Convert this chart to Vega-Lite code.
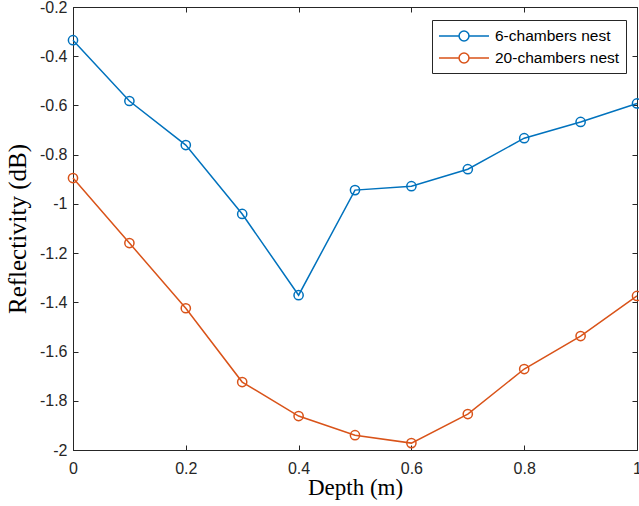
{
  "$schema": "https://vega.github.io/schema/vega-lite/v6.json",
  "width": 564,
  "height": 443,
  "autosize": {"type": "none"},
  "padding": {"left": 73, "top": 7, "right": 2, "bottom": 56},
  "background": "white",
  "config": {
    "view": {"stroke": "#262626", "strokeWidth": 1},
    "axis": {
      "labelFont": "Liberation Sans",
      "labelFontSize": 16,
      "labelColor": "#262626",
      "titleFont": "Liberation Serif",
      "titleFontWeight": "normal",
      "titleColor": "#000000",
      "gridColor": "#e3e3e3",
      "gridWidth": 1,
      "domainColor": "#262626",
      "tickColor": "#262626",
      "tickSize": -5
    }
  },
  "data": {
    "values": [
      {"depth": 0.0, "refl": -0.335, "series": "6-chambers nest"},
      {"depth": 0.1, "refl": -0.582, "series": "6-chambers nest"},
      {"depth": 0.2, "refl": -0.761, "series": "6-chambers nest"},
      {"depth": 0.3, "refl": -1.041, "series": "6-chambers nest"},
      {"depth": 0.4, "refl": -1.371, "series": "6-chambers nest"},
      {"depth": 0.5, "refl": -0.944, "series": "6-chambers nest"},
      {"depth": 0.6, "refl": -0.928, "series": "6-chambers nest"},
      {"depth": 0.7, "refl": -0.859, "series": "6-chambers nest"},
      {"depth": 0.8, "refl": -0.733, "series": "6-chambers nest"},
      {"depth": 0.9, "refl": -0.667, "series": "6-chambers nest"},
      {"depth": 1.0, "refl": -0.592, "series": "6-chambers nest"},
      {"depth": 0.0, "refl": -0.895, "series": "20-chambers nest"},
      {"depth": 0.1, "refl": -1.159, "series": "20-chambers nest"},
      {"depth": 0.2, "refl": -1.424, "series": "20-chambers nest"},
      {"depth": 0.3, "refl": -1.724, "series": "20-chambers nest"},
      {"depth": 0.4, "refl": -1.862, "series": "20-chambers nest"},
      {"depth": 0.5, "refl": -1.94, "series": "20-chambers nest"},
      {"depth": 0.6, "refl": -1.972, "series": "20-chambers nest"},
      {"depth": 0.7, "refl": -1.854, "series": "20-chambers nest"},
      {"depth": 0.8, "refl": -1.671, "series": "20-chambers nest"},
      {"depth": 0.9, "refl": -1.537, "series": "20-chambers nest"},
      {"depth": 1.0, "refl": -1.374, "series": "20-chambers nest"}
    ]
  },
  "resolve": {"axis": {"x": "independent", "y": "independent"}},
  "layer": [
    {
      "mark": {"type": "point", "opacity": 0},
      "encoding": {
        "x": {
          "field": "depth",
          "type": "quantitative",
          "scale": {"domain": [0, 1], "nice": false},
          "axis": {"orient": "top", "values": [0, 0.2, 0.4, 0.6, 0.8, 1], "labels": false, "title": null, "grid": false, "domain": false}
        },
        "y": {
          "field": "refl",
          "type": "quantitative",
          "scale": {"domain": [-2, -0.2], "nice": false, "zero": false},
          "axis": {"orient": "right", "values": [-2, -1.8, -1.6, -1.4, -1.2, -1, -0.8, -0.6, -0.4, -0.2], "labels": false, "title": null, "grid": false, "domain": false}
        }
      }
    },
    {
      "mark": {
        "type": "line",
        "strokeWidth": 1.5,
        "point": {"filled": false, "size": 85, "strokeWidth": 1.5, "fill": "transparent"}
      },
      "encoding": {
        "x": {
          "field": "depth",
          "type": "quantitative",
          "title": "Depth (m)",
          "scale": {"domain": [0, 1], "nice": false},
          "axis": {
            "values": [0, 0.2, 0.4, 0.6, 0.8, 1],
            "labelExpr": "replace(format(datum.value, '~g'), '−', '-')",
            "labelPadding": 15,
            "titleFontSize": 23,
            "titlePadding": 0,
            "labelFlush": false
          }
        },
        "y": {
          "field": "refl",
          "type": "quantitative",
          "title": "Reflectivity (dB)",
          "scale": {"domain": [-2, -0.2], "nice": false, "zero": false},
          "axis": {
            "values": [-2, -1.8, -1.6, -1.4, -1.2, -1, -0.8, -0.6, -0.4, -0.2],
            "labelExpr": "replace(format(datum.value, '~g'), '−', '-')",
            "labelPadding": 11,
            "titleFontSize": 25,
            "titlePadding": 9,
            "labelFlush": false
          }
        },
        "color": {
          "field": "series",
          "type": "nominal",
          "scale": {
            "domain": ["6-chambers nest", "20-chambers nest"],
            "range": ["#0072BD", "#D95319"]
          },
          "legend": {
            "title": null,
            "orient": "none",
            "legendX": 359,
            "legendY": 13,
            "symbolType": "M-1,0L1.23,0M2.33,0L4.56,0M2.33,0A0.55,0.55,0,1,1,1.23,0A0.55,0.55,0,1,1,2.33,0",
            "symbolSize": 324,
            "symbolStrokeWidth": 1.5,
            "symbolFillColor": "transparent",
            "labelFont": "Liberation Sans",
            "labelFontSize": 15.5,
            "labelColor": "#000000",
            "rowPadding": 3,
            "labelOffset": 37,
            "padding": 6,
            "strokeColor": "#262626",
            "fillColor": "white"
          }
        }
      }
    }
  ]
}
